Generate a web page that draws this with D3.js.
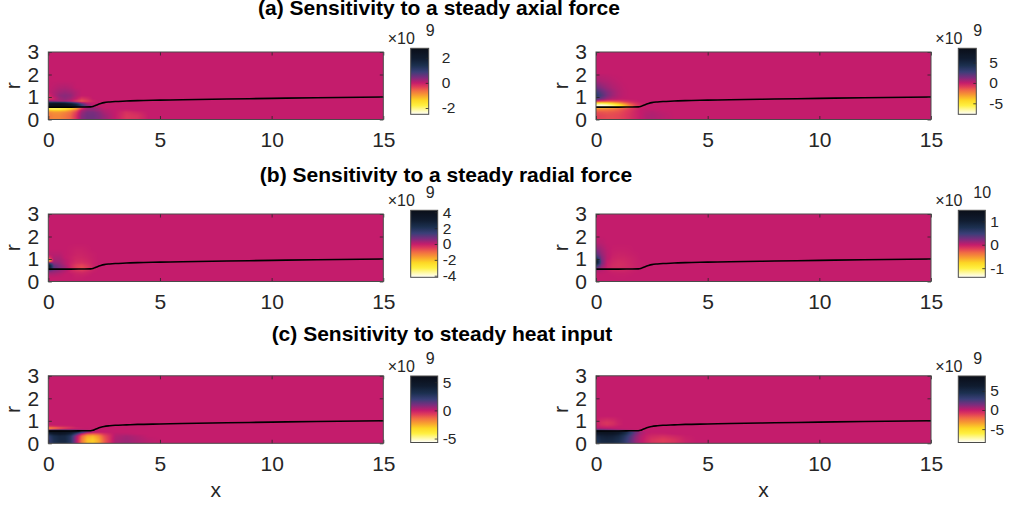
<!DOCTYPE html>
<html><head><meta charset="utf-8">
<script src="https://cdn.jsdelivr.net/npm/d3@7"></script>
<style>
body{margin:0;background:#fff}
svg{display:block}
text{font-family:"Liberation Sans",Arial,Helvetica,sans-serif;fill:#262626}
</style>
</head><body><div id="chart"></div>
<script>
// ---------- data ----------
const xTicks = [0, 5, 10, 15];
const rTicks = [0, 1, 2, 3];

// sampling grid of the sensitivity fields (x, r)
const gridX = [0, 0.25, 0.5, 0.75, 1, 1.25, 1.5, 1.75, 2, 2.25, 2.5, 3, 3.5, 4, 4.5, 5];
const gridR = [0, 0.15, 0.3, 0.4, 0.48, 0.56, 0.64, 0.72, 0.8, 0.9, 1.05, 1.2, 1.4, 1.7, 2];

// jet boundary r(x)
const boundaryX = [0, 0.5, 1, 1.5, 1.9, 2.0, 2.1, 2.2, 2.35, 2.5, 2.75, 3, 3.5, 4, 5, 6, 8, 10, 12, 15];
const boundaryR = [0.55, 0.55, 0.55, 0.555, 0.56, 0.58, 0.62, 0.66, 0.71, 0.75, 0.78, 0.80, 0.82, 0.84, 0.86, 0.88, 0.91, 0.94, 0.97, 1.0];

// fields, rows follow gridR, columns follow gridX (in units of 10^exponent)
const axialLeft = [
  [-0.7,-0.8,-0.8,-0.7,-0.55,-0.2, 0.35, 0.5, 0.5, 0.4, 0.25, 0.0,-0.25,-0.2, 0.0, 0],
  [-0.7,-0.8,-0.8,-0.7,-0.55,-0.2, 0.35, 0.5, 0.5, 0.4, 0.25, 0.0,-0.25,-0.2, 0.0, 0],
  [-0.8,-0.9,-0.9,-0.8,-0.65,-0.3, 0.25, 0.45, 0.45, 0.35, 0.15, 0.0,-0.2,-0.1, 0.0, 0],
  [-1.3,-1.4,-1.4,-1.3,-1.0,-0.6, 0.1, 0.3, 0.3, 0.2, 0.1, 0.0,-0.05, 0.0, 0.0, 0],
  [-2.3,-2.4,-2.3,-2.1,-1.8,-1.3,-0.4, 0.2, 0.3, 0.2, 0.0, 0, 0, 0, 0, 0],
  [ 2.4, 2.6, 2.6, 2.5, 2.2, 1.8, 1.0, 0.4, 0.1, 0, 0, 0, 0, 0, 0, 0],
  [ 2.6, 2.7, 2.7, 2.6, 2.3, 1.8, 0.9, 0.3, 0, 0, 0, 0, 0, 0, 0, 0],
  [ 1.8, 2.0, 2.0, 1.8, 1.4, 0.9, 0.3, 0, 0, 0, 0, 0, 0, 0, 0, 0],
  [ 0.4, 0.3, 0.2, 0.2, 0.0,-0.3,-0.5,-0.3,-0.1, 0, 0, 0, 0, 0, 0, 0],
  [-0.3,-0.1, 0.2, 0.3, 0.2, 0.0,-0.25,-0.15, 0, 0, 0, 0, 0, 0, 0, 0],
  [-0.2, 0.1, 0.3, 0.35, 0.3, 0.1, 0, 0, 0, 0, 0, 0, 0, 0, 0, 0],
  [ 0.0, 0.1, 0.2, 0.25, 0.2, 0.1, 0, 0, 0, 0, 0, 0, 0, 0, 0, 0],
  [ 0.0, 0.05,0.1, 0.12,0.08, 0, 0, 0, 0, 0, 0, 0, 0, 0, 0, 0],
  [ 0, 0, 0, 0, 0, 0, 0, 0, 0, 0, 0, 0, 0, 0, 0, 0],
  [ 0, 0, 0, 0, 0, 0, 0, 0, 0, 0, 0, 0, 0, 0, 0, 0]
];
const axialRight = [
  [-1.0,-1.1,-1.2,-1.2,-1.1,-0.9,-0.6,-0.3, 0.0, 0.3, 0.4, 0.2, 0, 0, 0, 0],
  [-1.0,-1.1,-1.2,-1.2,-1.1,-0.9,-0.6,-0.3, 0.0, 0.3, 0.4, 0.2, 0, 0, 0, 0],
  [-1.3,-1.4,-1.5,-1.4,-1.3,-1.0,-0.7,-0.3, 0.0, 0.2, 0.3, 0.1, 0, 0, 0, 0],
  [-2.0,-2.1,-2.0,-1.9,-1.6,-1.2,-0.8,-0.4, 0.0, 0.1, 0.1, 0, 0, 0, 0, 0],
  [-3.0,-3.0,-2.8,-2.5,-2.0,-1.5,-1.0,-0.5,-0.1, 0, 0, 0, 0, 0, 0, 0],
  [-7.5,-7.6,-7.2,-6.5,-5.5,-4.0,-2.5,-1.2,-0.4, 0, 0, 0, 0, 0, 0, 0],
  [-7.0,-7.2,-6.8,-6.0,-5.0,-3.5,-2.0,-1.0,-0.3, 0, 0, 0, 0, 0, 0, 0],
  [-4.5,-4.8,-4.5,-3.8,-3.0,-2.0,-1.2,-0.6,-0.2, 0, 0, 0, 0, 0, 0, 0],
  [-0.5,-1.0,-1.2,-1.2,-1.0,-0.7,-0.4,-0.2, 0, 0, 0, 0, 0, 0, 0, 0],
  [ 2.5, 1.5, 0.7, 0.3, 0.1, 0, 0, 0, 0, 0, 0, 0, 0, 0, 0, 0],
  [ 3.5, 2.3, 1.3, 0.7, 0.3, 0.1, 0, 0, 0, 0, 0, 0, 0, 0, 0, 0],
  [ 2.8, 1.9, 1.2, 0.7, 0.3, 0.1, 0, 0, 0, 0, 0, 0, 0, 0, 0, 0],
  [ 1.6, 1.1, 0.7, 0.4, 0.2, 0.05, 0, 0, 0, 0, 0, 0, 0, 0, 0, 0],
  [ 0.6, 0.4, 0.3, 0.15, 0.05, 0, 0, 0, 0, 0, 0, 0, 0, 0, 0, 0],
  [ 0.15, 0.1, 0.05, 0, 0, 0, 0, 0, 0, 0, 0, 0, 0, 0, 0, 0]
];
const radialLeft = [
  [ 0, 0, 0, 0, 0, 0, 0, 0, 0, 0, 0, 0, 0, 0, 0, 0],
  [ 0, 0, 0, 0, 0,-0.05,-0.05, 0, 0, 0, 0, 0, 0, 0, 0, 0],
  [ 0.2, 0.2, 0.1, 0, 0,-0.1,-0.12,-0.08, 0, 0, 0, 0, 0, 0, 0, 0],
  [ 0.5, 0.4, 0.3, 0.1,-0.1,-0.2,-0.25,-0.15,-0.05, 0, 0, 0, 0, 0, 0, 0],
  [ 1.0, 0.6, 0.4, 0.2,-0.12,-0.35,-0.45,-0.3,-0.1, 0, 0, 0, 0, 0, 0, 0],
  [ 3.0, 1.0, 0.6, 0.3,-0.15,-0.5,-0.7,-0.45,-0.12, 0, 0, 0, 0, 0, 0, 0],
  [ 3.5, 1.0, 0.6, 0.3,-0.15,-0.5,-0.65,-0.45,-0.12, 0, 0, 0, 0, 0, 0, 0],
  [ 3.0, 0.8, 0.5, 0.2,-0.15,-0.45,-0.55,-0.35,-0.12, 0, 0, 0, 0, 0, 0, 0],
  [ 1.5, 0.5, 0.4, 0.1,-0.12,-0.3,-0.35,-0.25,-0.08, 0, 0, 0, 0, 0, 0, 0],
  [-2.5, 0.3, 0.3, 0.1,-0.08,-0.22,-0.25,-0.18,-0.08, 0, 0, 0, 0, 0, 0, 0],
  [-0.5, 0.2, 0.2, 0.0,-0.08,-0.17,-0.17,-0.12,-0.05, 0, 0, 0, 0, 0, 0, 0],
  [ 0.1, 0.1, 0.1, 0.0,-0.05,-0.12,-0.12,-0.08,-0.04, 0, 0, 0, 0, 0, 0, 0],
  [ 0, 0, 0, 0,-0.04,-0.08,-0.08,-0.04, 0, 0, 0, 0, 0, 0, 0, 0],
  [ 0, 0, 0, 0, 0, 0, 0, 0, 0, 0, 0, 0, 0, 0, 0, 0],
  [ 0, 0, 0, 0, 0, 0, 0, 0, 0, 0, 0, 0, 0, 0, 0, 0]
];
const radialRight = [
  [ 0, 0, 0, 0, 0, 0, 0, 0, 0, 0, 0, 0, 0, 0, 0, 0],
  [ 0, 0, 0, 0,-0.005,-0.005, 0, 0, 0, 0, 0, 0, 0, 0, 0, 0],
  [ 0, 0, 0,-0.01,-0.015,-0.015,-0.01, 0, 0, 0, 0, 0, 0, 0, 0, 0],
  [ 0.05, 0.02, 0,-0.025,-0.03,-0.03,-0.02,-0.01, 0, 0, 0, 0, 0, 0, 0, 0],
  [ 0.1, 0.05,-0.015,-0.05,-0.06,-0.05,-0.035,-0.015, 0, 0, 0, 0, 0, 0, 0, 0],
  [ 0.3, 0.1,-0.025,-0.07,-0.08,-0.07,-0.05,-0.025,-0.005, 0, 0, 0, 0, 0, 0, 0],
  [ 0.5, 0.15,-0.025,-0.075,-0.09,-0.075,-0.055,-0.03,-0.01, 0, 0, 0, 0, 0, 0, 0],
  [ 0.7, 0.2,-0.02,-0.075,-0.09,-0.08,-0.055,-0.03,-0.01, 0, 0, 0, 0, 0, 0, 0],
  [ 1.1, 0.25,-0.01,-0.065,-0.085,-0.075,-0.05,-0.025,-0.01, 0, 0, 0, 0, 0, 0, 0],
  [ 1.2, 0.25, 0,-0.05,-0.075,-0.065,-0.045,-0.025,-0.005, 0, 0, 0, 0, 0, 0, 0],
  [ 0.6, 0.2, 0.03,-0.035,-0.05,-0.05,-0.035,-0.02, 0, 0, 0, 0, 0, 0, 0, 0],
  [ 0.35, 0.15, 0.03,-0.02,-0.035,-0.03,-0.02,-0.01, 0, 0, 0, 0, 0, 0, 0, 0],
  [ 0.2, 0.1, 0.02,-0.01,-0.015,-0.015,-0.01, 0, 0, 0, 0, 0, 0, 0, 0, 0],
  [ 0.05, 0.03, 0, 0, 0, 0, 0, 0, 0, 0, 0, 0, 0, 0, 0, 0],
  [ 0, 0, 0, 0, 0, 0, 0, 0, 0, 0, 0, 0, 0, 0, 0, 0]
];
const heatLeft = [
  [ 2.0, 3.0, 3.5, 3.5, 2.5, 0.4,-1.6,-2.8,-3.0,-2.4,-1.2, 0.3, 0.5, 0.3, 0.1, 0],
  [ 2.0, 3.0, 3.5, 3.5, 2.5, 0.4,-1.6,-2.8,-3.0,-2.4,-1.2, 0.3, 0.5, 0.3, 0.1, 0],
  [ 2.2, 3.2, 3.6, 3.5, 2.6, 0.5,-1.3,-2.4,-2.6,-2.0,-1.0, 0.2, 0.4, 0.2, 0, 0],
  [ 3.5, 4.5, 4.8, 4.6, 3.8, 2.0, 0.0,-1.0,-1.2,-1.0,-0.5, 0.1, 0.1, 0, 0, 0],
  [ 5.5, 5.8, 5.8, 5.6, 5.2, 4.2, 2.5, 1.0, 0.2, 0, 0, 0, 0, 0, 0, 0],
  [ 2.0, 2.5, 2.5, 2.2, 1.8, 1.3, 0.7, 0.3, 0.1, 0, 0, 0, 0, 0, 0, 0],
  [-2.5,-2.0,-1.5,-1.0,-0.6,-0.3,-0.1, 0, 0, 0, 0, 0, 0, 0, 0, 0],
  [-0.8,-0.6,-0.4,-0.3,-0.2, 0, 0, 0, 0, 0, 0, 0, 0, 0, 0, 0],
  [ 0, 0, 0, 0, 0, 0, 0, 0, 0, 0, 0, 0, 0, 0, 0, 0],
  [ 0, 0, 0, 0, 0, 0, 0, 0, 0, 0, 0, 0, 0, 0, 0, 0],
  [ 0, 0, 0, 0, 0, 0, 0, 0, 0, 0, 0, 0, 0, 0, 0, 0],
  [ 0, 0, 0, 0, 0, 0, 0, 0, 0, 0, 0, 0, 0, 0, 0, 0],
  [ 0, 0, 0, 0, 0, 0, 0, 0, 0, 0, 0, 0, 0, 0, 0, 0],
  [ 0, 0, 0, 0, 0, 0, 0, 0, 0, 0, 0, 0, 0, 0, 0, 0],
  [ 0, 0, 0, 0, 0, 0, 0, 0, 0, 0, 0, 0, 0, 0, 0, 0]
];
const heatRight = [
  [ 4.0, 5.0, 5.2, 5.0, 4.5, 3.5, 2.2, 1.0, 0.2,-0.3,-0.7,-1.0,-0.7,-0.2, 0, 0],
  [ 4.2, 5.2, 5.4, 5.2, 4.6, 3.6, 2.3, 1.0, 0.2,-0.3,-0.7,-1.0,-0.7,-0.2, 0, 0],
  [ 5.0, 5.8, 6.0, 5.8, 5.2, 4.0, 2.6, 1.2, 0.3,-0.15,-0.4,-0.55,-0.35,-0.1, 0, 0],
  [ 6.5, 7.0, 7.2, 7.0, 6.3, 5.0, 3.2, 1.6, 0.5, 0,-0.15,-0.15, 0, 0, 0, 0],
  [ 8.5, 8.5, 8.5, 8.2, 7.5, 6.0, 4.0, 2.0, 0.7, 0.1, 0, 0, 0, 0, 0, 0],
  [ 3.0, 2.5, 2.0, 1.6, 1.2, 0.8, 0.5, 0.2, 0, 0, 0, 0, 0, 0, 0, 0],
  [ 0.5, 0.3, 0.2, 0.1, 0, 0, 0, 0, 0, 0, 0, 0, 0, 0, 0, 0],
  [ 0,-0.2,-0.3,-0.2, 0, 0, 0, 0, 0, 0, 0, 0, 0, 0, 0, 0],
  [ 0,-0.5,-0.7,-0.5,-0.2, 0, 0, 0, 0, 0, 0, 0, 0, 0, 0, 0],
  [ 0,-0.6,-0.8,-0.6,-0.2, 0, 0, 0, 0, 0, 0, 0, 0, 0, 0, 0],
  [ 0,-0.3,-0.4,-0.3,-0.1, 0, 0, 0, 0, 0, 0, 0, 0, 0, 0, 0],
  [ 0, 0, 0, 0, 0, 0, 0, 0, 0, 0, 0, 0, 0, 0, 0, 0],
  [ 0, 0, 0, 0, 0, 0, 0, 0, 0, 0, 0, 0, 0, 0, 0, 0],
  [ 0, 0, 0, 0, 0, 0, 0, 0, 0, 0, 0, 0, 0, 0, 0, 0],
  [ 0, 0, 0, 0, 0, 0, 0, 0, 0, 0, 0, 0, 0, 0, 0, 0]
];

// colour limits and colourbar ticks (units of 10^exponent)
const colorMins = [-2.5, -7.7, -4.2, -1.39, -5.7, -8.5];
const colorMaxs = [2.75, 8.5, 4.25, 1.47, 6.1, 8.9];
const cbarTicks = [[-2, 0, 2], [-5, 0, 5], [-4, -2, 0, 2, 4], [-1, 0, 1], [-5, 0, 5], [-5, 0, 5]];
const exponents = [9, 9, 9, 10, 9, 9];
const fields = [axialLeft, axialRight, radialLeft, radialRight, heatLeft, heatRight];
const rowTitles = [
  "(a) Sensitivity to a steady axial force",
  "(b) Sensitivity to a steady radial force",
  "(c) Sensitivity to steady heat input"
];

// ---------- colour map (white - yellow - orange - magenta - purple - navy - black) ----------
const cmapPos = [0, 0.06, 0.14, 0.22, 0.3, 0.38, 0.44, 0.5, 0.58, 0.66, 0.75, 0.85, 1];
const cmapCol = ["#ffffff", "#fffab0", "#fff040", "#fdd825", "#f8a030", "#f06a45", "#e03c5a",
                 "#c41c6c", "#7a2d7e", "#3a3f78", "#1c3050", "#101c30", "#0a0e18"];
const cmap = d3.scaleLinear().domain(cmapPos).range(cmapCol).interpolate(d3.interpolateRgb).clamp(true);

// ---------- layout ----------
const W = 1011, H = 507;
const colLeft = [48.3, 596];
const rowTop = [52, 214, 375.8];
const plotW = 335, plotH = 67.5;
const cbarLeft = [410.7, 958.3];
const cbarTop = [48.3, 210.3, 376];
const cbarH = [66, 67, 66.5];
const cbarW = [18, 27, 27];
const cbarPad = [13, 5, 5];
const titleX = [439, 446, 442];
const titleY = [15, 182, 341];
const fontFamily = '"Liberation Sans",Arial,Helvetica,sans-serif';

const svg = d3.select("#chart").append("svg").attr("width", W).attr("height", H);
const defs = svg.append("defs");

function bisectIdx(arr, v) {
  const i = d3.bisectRight(arr, v) - 1;
  return Math.max(0, Math.min(arr.length - 2, i));
}
function sample(field, x, r) {
  if (x > gridX[gridX.length - 1] || r > gridR[gridR.length - 1]) return 0;
  const i = bisectIdx(gridX, x), j = bisectIdx(gridR, r);
  const tx = Math.max(0, Math.min(1, (x - gridX[i]) / (gridX[i + 1] - gridX[i])));
  const tr = Math.max(0, Math.min(1, (r - gridR[j]) / (gridR[j + 1] - gridR[j])));
  const a = field[j][i], b = field[j][i + 1], c = field[j + 1][i], d = field[j + 1][i + 1];
  return (a * (1 - tx) + b * tx) * (1 - tr) + (c * (1 - tx) + d * tx) * tr;
}

const line = d3.line().curve(d3.curveMonotoneX);
const plain = d => String(d);

fields.forEach((field, k) => {
  const row = Math.floor(k / 2), col = k % 2;
  const x0 = colLeft[col], y0 = rowTop[row];
  const x = d3.scaleLinear().domain([0, 15]).range([x0, x0 + plotW]);
  const y = d3.scaleLinear().domain([0, 3]).range([y0 + plotH, y0]);
  const tOf = d3.scaleLinear().domain([colorMins[k], 0, colorMaxs[k]]).range([0, 0.5, 1]).clamp(true);
  const color = v => cmap(tOf(v));

  // field image, one pixel per screen pixel
  const pw = Math.round(plotW), ph = Math.round(plotH);
  const cv = document.createElement("canvas");
  cv.width = pw; cv.height = ph;
  const ctx = cv.getContext("2d");
  const img = ctx.createImageData(pw, ph);
  for (let py = 0; py < ph; py++) {
    const rv = y.invert(y0 + py + 0.5);
    for (let px = 0; px < pw; px++) {
      const xv = x.invert(x0 + px + 0.5);
      const c = d3.rgb(color(sample(field, xv, rv)));
      const o = (py * pw + px) * 4;
      img.data[o] = c.r; img.data[o + 1] = c.g; img.data[o + 2] = c.b; img.data[o + 3] = 255;
    }
  }
  ctx.putImageData(img, 0, 0);
  svg.append("image").attr("x", x0).attr("y", y0).attr("width", plotW).attr("height", plotH)
    .attr("preserveAspectRatio", "none").attr("href", cv.toDataURL());

  // jet boundary
  svg.append("path")
    .attr("d", line(boundaryX.map((d, i) => [x(d), y(boundaryR[i])])))
    .attr("fill", "none").attr("stroke", "#000").attr("stroke-width", 1.6);

  // axes (ticks inside, box)
  const g = svg.append("g");
  g.append("g").attr("transform", `translate(0,${y0 + plotH})`)
    .call(d3.axisBottom(x).tickValues(xTicks).tickSize(-3.5).tickPadding(12.5).tickFormat(plain));
  g.append("g").attr("transform", `translate(0,${y0})`)
    .call(d3.axisTop(x).tickValues(xTicks).tickSize(-3.5).tickFormat(""));
  g.append("g").attr("transform", `translate(${x0},0)`)
    .call(d3.axisLeft(y).tickValues(rTicks).tickSize(-3.5).tickPadding(9).tickFormat(plain));
  g.append("g").attr("transform", `translate(${x0 + plotW},0)`)
    .call(d3.axisRight(y).tickValues(rTicks).tickSize(-3.5).tickFormat(""));
  g.selectAll(".domain").remove();
  g.selectAll(".tick line").attr("stroke", "#262626").attr("stroke-width", 0.8);
  g.selectAll(".tick text").attr("font-size", 21).attr("fill", "#262626").style("font-family", fontFamily);
  svg.append("rect").attr("x", x0).attr("y", y0).attr("width", plotW).attr("height", plotH)
    .attr("fill", "none").attr("stroke", "#4a4a4a").attr("stroke-width", 1);

  svg.append("text").attr("transform", `translate(${x0 - 28.5},${y0 + plotH / 2}) rotate(-90)`)
    .attr("text-anchor", "middle").attr("font-size", 21).text("r");
  if (row === 2) {
    svg.append("text").attr("x", x0 + plotW / 2).attr("y", 496.5)
      .attr("text-anchor", "middle").attr("font-size", 21).text("x");
  }

  // colourbar: vertical gradient sampled from the same colour function
  const cx = cbarLeft[col], cy = cbarTop[row], ch = cbarH[row], cw = cbarW[row];
  const cs = d3.scaleLinear().domain([colorMins[k], colorMaxs[k]]).range([cy + ch, cy]);
  const gradId = "cbar" + k;
  const grad = defs.append("linearGradient").attr("id", gradId)
    .attr("x1", 0).attr("y1", 1).attr("x2", 0).attr("y2", 0);
  grad.selectAll("stop").data(d3.range(0, 1.0001, 0.01)).join("stop")
    .attr("offset", d => d)
    .attr("stop-color", d => color(colorMins[k] + d * (colorMaxs[k] - colorMins[k])));
  svg.append("rect").attr("x", cx).attr("y", cy).attr("width", cw).attr("height", ch)
    .attr("fill", `url(#${gradId})`);
  const cg = svg.append("g").attr("transform", `translate(${cx + cw},0)`)
    .call(d3.axisRight(cs).tickValues(cbarTicks[k]).tickSize(-3).tickPadding(cbarPad[row]).tickFormat(plain));
  cg.select(".domain").remove();
  cg.selectAll(".tick line").attr("stroke", "#262626").attr("stroke-width", 0.8);
  cg.selectAll(".tick text").attr("font-size", 15.5).attr("fill", "#262626").style("font-family", fontFamily);
  svg.append("rect").attr("x", cx).attr("y", cy).attr("width", cw).attr("height", ch)
    .attr("fill", "none").attr("stroke", "#4a4a4a").attr("stroke-width", 1);
  svg.append("text").attr("x", cx - 23).attr("y", cy - 4).attr("font-size", 16).text("\u00d710");
  svg.append("text").attr("x", cx + 15).attr("y", cy - 12).attr("font-size", 16).text(String(exponents[k]));
});

rowTitles.forEach((t, i) => {
  svg.append("text").attr("x", titleX[i]).attr("y", titleY[i]).attr("text-anchor", "middle")
    .attr("font-size", 21).attr("font-weight", "bold").style("fill", "#000").text(t);
});
</script>
</body></html>
